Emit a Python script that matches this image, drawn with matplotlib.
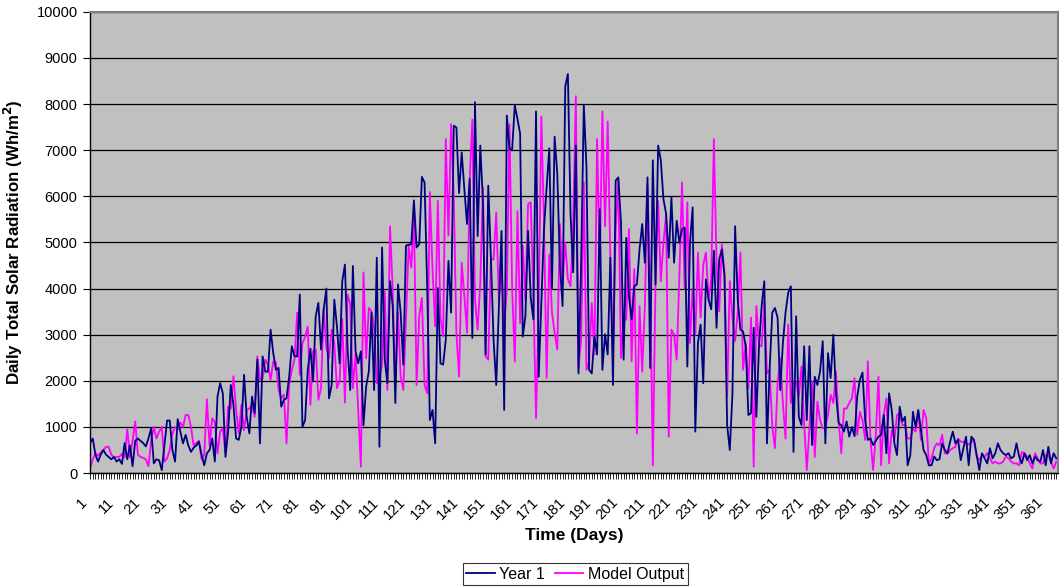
import matplotlib
matplotlib.use("Agg")
import matplotlib.pyplot as plt
import numpy as np

plt.rcParams['font.family'] = ['Liberation Sans', 'DejaVu Sans']

days = list(range(1, 366))

year1 = [
    650, 750, 400, 250, 400, 500, 400, 350, 300, 350,
    250, 300, 200, 650, 300, 600, 150, 700, 750, 700,
    650, 580, 750, 970, 210, 300, 280, 65, 600, 1140,
    1140, 500, 250, 1170, 900, 645, 830, 600, 460, 550,
    600, 680, 400, 170, 430, 500, 750, 250, 1660, 1950,
    1730, 350, 900, 1910, 1480, 750, 720, 1000, 2130, 1220,
    860, 1660, 1300, 2460, 645, 2530, 2200, 2200, 3110, 2600,
    2240, 2280, 1440, 1590, 1620, 2090, 2750, 2530, 2530, 3870,
    1000, 1150, 2240, 2700, 1990, 3400, 3690, 2680, 3550, 4000,
    1620, 1910, 3760, 3180, 2380, 4160, 4520, 2710, 1800, 4490,
    2640, 2380, 2640, 1040, 1880, 2200, 3480, 1800, 4670, 570,
    4890, 2460, 1950, 4160, 3620, 1520, 4090, 3480, 2350, 4930,
    4950, 4960, 5910, 4890, 4960, 6420, 6300, 4050, 1150, 1370,
    645, 4010, 2380, 2350, 2890, 4600, 3480, 7530, 7490, 6070,
    6950, 6150, 5400, 6380, 2930, 8040, 5140, 7100, 5860, 2570,
    6230, 4670, 2890, 1910, 3550, 5250, 1370, 7750, 7020, 7020,
    7970, 7680, 7360, 2960, 3400, 5250, 3800, 3330, 7840, 2090,
    3690, 5290, 6200, 7040, 4000, 7290, 6490, 4520, 3620, 8380,
    8650, 5620, 4350, 7100, 2160, 4560, 7970, 6640, 2240, 2160,
    2960, 2570, 5720, 2240, 3010, 2570, 4670, 1910, 6340, 6410,
    5430, 2460, 5100, 3840, 3330, 4050, 4090, 4850, 5400, 4560,
    6410, 2280, 6780, 4090, 7100, 6780, 5940, 5620, 4670, 5980,
    4560, 5470, 4990, 5290, 5320, 2310, 4990, 5760, 900, 2820,
    3220, 1950, 4200, 3760, 3550, 4820, 3150, 4630, 4850, 4270,
    1040, 500, 1730, 5350, 3760, 3110, 3070, 2750, 1260, 1300,
    3150, 1220, 2750, 3620, 4160, 645, 2240, 3480, 3580, 3370,
    1800, 2820, 3480, 3910, 4050, 460, 3400, 1220, 1040, 2750,
    1150, 2750, 610, 2090, 1910, 2200, 2860, 645, 2600, 2060,
    3000, 1730, 1080, 1040, 900, 1120, 790, 1000, 800, 1660,
    2020, 2180, 1150, 720, 750, 610, 700, 790, 830, 1260,
    430, 1730, 1370, 645, 390, 1440, 1120, 1220, 170, 390,
    1330, 1000, 1370, 930, 500, 390, 170, 170, 360, 280,
    300, 645, 500, 430, 680, 900, 645, 720, 280, 540,
    790, 170, 790, 720, 390, 65, 430, 320, 210, 540,
    320, 430, 645, 500, 430, 390, 430, 320, 360, 645,
    360, 210, 430, 280, 390, 210, 360, 280, 250, 500,
    170, 570, 210, 430, 320,
]

model_output = [
    100, 300, 430, 380, 450, 500, 570, 570, 400, 340,
    350, 350, 420, 340, 950, 345, 700, 1120, 400, 350,
    330, 300, 150, 700, 1000, 750, 900, 1000, 250, 320,
    500, 850, 1000, 950, 1100, 1000, 1260, 1260, 1000, 600,
    650, 700, 300, 400, 1600, 600, 1190, 1100, 430, 900,
    970, 430, 1440, 1400, 2100, 1370, 860, 1480, 930, 1370,
    1400, 1480, 1220, 2530, 2020, 2050, 2460, 2350, 2020, 2420,
    2400, 1800, 1620, 1700, 645, 1910, 2240, 2460, 3480, 2130,
    2820, 2950, 3180, 1480, 2640, 2680, 1590, 1840, 3580, 2700,
    2490, 3110, 2820, 1840, 1990, 3340, 1530, 3870, 3660, 1840,
    2600, 1370, 140, 4350, 2490, 3580, 3510, 3150, 1950, 2060,
    2350, 3940, 1800, 5350, 3980, 1880, 3480, 2100, 1800, 3330,
    4930, 4450, 5570, 1910, 3400, 3800, 1910, 1730, 6090, 4420,
    3180, 5900, 3370, 2960, 7240, 5150, 7560, 6000, 3040, 2090,
    4560, 3840, 3040, 6340, 7660, 3760, 3110, 4130, 6200, 2530,
    2460, 4630, 4630, 5650, 3730, 4520, 3110, 4000, 7560, 4000,
    2420, 5680, 3250, 4930, 3730, 5830, 5870, 3840, 1190, 3550,
    7730, 5430, 2060, 4740, 3480, 3040, 2680, 5400, 4090, 5000,
    4200, 4050, 5430, 8170, 2280, 2890, 6300, 2240, 2420, 3690,
    2570, 7240, 4500, 7840, 5350, 7620, 4630, 2490, 5250, 6340,
    2490, 3300, 3330, 5290, 2420, 4420, 860, 3620, 2200, 3620,
    6230, 4050, 170, 4050, 5900, 4160, 4990, 5620, 790, 3110,
    3000, 2460, 4270, 6300, 4000, 5870, 2820, 4000, 3000, 4780,
    3370, 4520, 4780, 3760, 4200, 7240, 4560, 3510, 4960, 4350,
    1660, 4160, 3370, 2860, 3500, 4780, 2240, 2820, 1840, 3370,
    140, 3620, 2780, 2750, 3730, 2160, 2240, 1000, 540, 1950,
    2490, 1520, 750, 3220, 1520, 1990, 1950, 1660, 2310, 1080,
    65, 970, 1990, 350, 1550, 1150, 970, 1000, 1260, 1700,
    1520, 2200, 1150, 430, 1400, 1400, 1520, 1620, 2060, 830,
    1330, 1150, 720, 2420, 720, 65, 830, 2090, 170, 1260,
    1620, 210, 930, 720, 1260, 1300, 1040, 1050, 750, 750,
    970, 900, 1330, 720, 1370, 1190, 210, 320, 540, 645,
    600, 830, 430, 420, 500, 540, 570, 750, 680, 680,
    645, 620, 680, 720, 360, 280, 390, 360, 430, 320,
    210, 250, 210, 210, 250, 360, 320, 250, 210, 210,
    170, 460, 430, 360, 210, 100, 430, 320, 210, 210,
    390, 390, 250, 100, 250,
]

n = min(len(days), len(year1), len(model_output))
year1 = year1[:n]
model_output = model_output[:n]
days = days[:n]

label_days = list(range(1, 366, 10))

fig = plt.figure(figsize=(10.6, 5.87), dpi=100)
ax = fig.add_axes([0.085, 0.194, 0.913, 0.786])
ax.set_facecolor('#C0C0C0')

ax.plot(days, year1, color='#000080', lw=1.3, label='Year 1', zorder=3)
ax.plot(days, model_output, color='#FF00FF', lw=1.3, label='Model Output', zorder=2)

ax.set_ylim(0, 10000)
ax.set_yticks(np.arange(0, 10001, 1000))
ax.set_xlim(1, 365.6)
ax.set_xticks(label_days)
ax.set_xticklabels([str(d) for d in label_days], rotation=45, ha='right', va='top',
                   rotation_mode='default', fontsize=10.5)
ax.set_xticks(days, minor=True)
ax.tick_params(axis='x', which='both', length=4, width=0.6, direction='out', pad=12)
ax.tick_params(axis='y', length=5, width=0.8, labelsize=10.5, pad=4)
ax.grid(axis='y', color='black', lw=0.9)
ax.set_axisbelow(True)

for s in ['top', 'right']:
    ax.spines[s].set_color('#808080')
    ax.spines[s].set_linewidth(1.5)
for s in ['left', 'bottom']:
    ax.spines[s].set_color('black')
    ax.spines[s].set_linewidth(1.0)

ax.set_ylabel('Daily Total Solar Radiation (Wh/m$^{\\mathbf{2}}$)', fontsize=12.2,
              fontweight='bold', labelpad=8)
ax.set_xlabel('Time (Days)', fontsize=12.5, fontweight='bold', labelpad=4)

leg = fig.legend(loc='center', bbox_to_anchor=(0.5425, 0.022), ncol=2, fontsize=11.5,
                 frameon=True, fancybox=False, edgecolor='black', handlelength=1.8,
                 borderpad=0.2, columnspacing=0.6, handletextpad=0.3,
                 borderaxespad=0)
leg.get_frame().set_linewidth(0.8)

fig.savefig('out.png', dpi=100, facecolor='white')
